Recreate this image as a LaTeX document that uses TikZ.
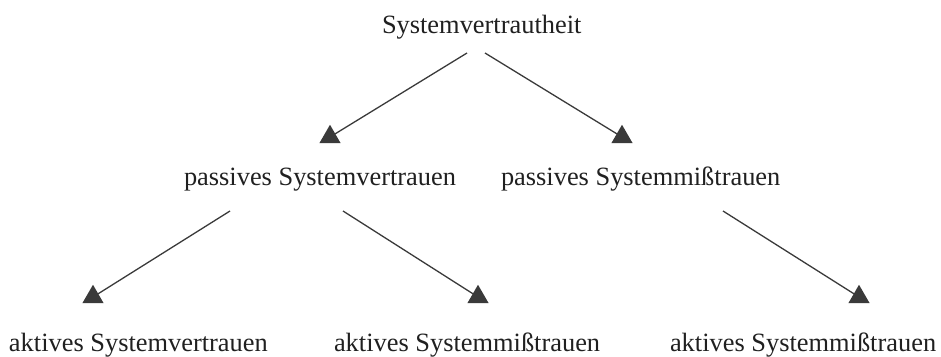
\documentclass[tikz,border=0pt]{standalone}
\usepackage{fontspec}
\setmainfont{Liberation Serif}
\usetikzlibrary{shapes.geometric}
\definecolor{ink}{HTML}{202020}
\definecolor{linec}{HTML}{3A3A3A}
\begin{document}
\begin{tikzpicture}[x=1pt,y=-1pt,
  lbl/.style={anchor=base west, inner sep=0pt, outer sep=0pt, text=ink, font=\fontsize{26.4}{30}\selectfont},
  tip/.style={regular polygon, regular polygon sides=3, fill=linec, draw=none, inner sep=0pt, outer sep=0pt, minimum size=24.5pt},
  conn/.style={draw=linec, line width=1.3pt}]
\useasboundingbox (0,0) rectangle (941,356);
% texts
\node[lbl] (top) at (382,33) {Systemvertrautheit};
\node[lbl] (pv) at (184,185) {passives Systemvertrauen};
\node[lbl] (pm) at (501,185) {passives Systemmißtrauen};
\node[lbl] (av) at (9,351) {aktives Systemvertrauen};
\node[lbl] (am1) at (334,351) {aktives Systemmißtrauen};
\node[lbl] (am2) at (670,351) {aktives Systemmißtrauen};
% connector start points
\coordinate (s1) at (467,53);
\coordinate (s2) at (485,53);
\coordinate (s3) at (230,211);
\coordinate (s4) at (343,211);
\coordinate (s5) at (723,211);
% tip positions
\coordinate (c1) at (330,137);
\coordinate (c2) at (622,137);
\coordinate (c3) at (93,297);
\coordinate (c4) at (478,297);
\coordinate (c5) at (859,297);
% connectors
\draw[conn] (s1) -- (c1);
\draw[conn] (s2) -- (c2);
\draw[conn] (s3) -- (c3);
\draw[conn] (s4) -- (c4);
\draw[conn] (s5) -- (c5);
% arrowheads
\node[tip] (t1) at (c1) {};
\node[tip] (t2) at (c2) {};
\node[tip] (t3) at (c3) {};
\node[tip] (t4) at (c4) {};
\node[tip] (t5) at (c5) {};
\end{tikzpicture}
\end{document}
